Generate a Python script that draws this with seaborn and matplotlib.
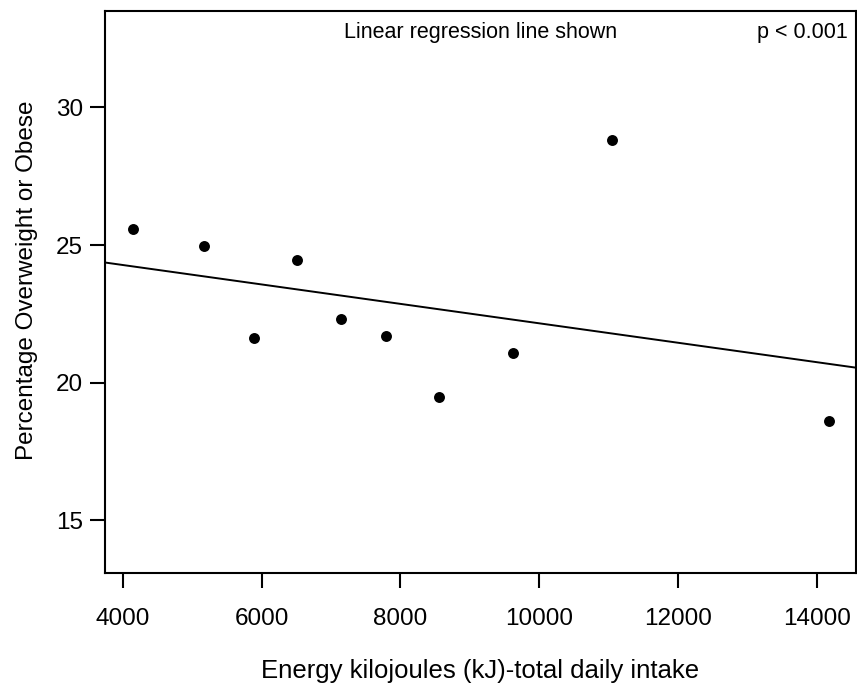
import numpy as np
import pandas as pd
import seaborn as sns
import matplotlib.pyplot as plt

# values
energy_kj = [4144, 5176, 5892, 6516, 7141, 7798, 8562, 9624, 11040, 14177]
pct_overweight = [25.59, 24.97, 21.62, 24.44, 22.30, 21.71, 19.49, 21.07, 28.81, 18.61]
x_ticks = [4000, 6000, 8000, 10000, 12000, 14000]
y_ticks = [15, 20, 25, 30]

df = pd.DataFrame({'energy': energy_kj, 'pct': pct_overweight})

sns.set_theme(style="ticks")
plt.rcParams['font.family'] = ['Liberation Sans', 'DejaVu Sans']

fig = plt.figure(figsize=(8.57, 6.9), dpi=100)
ax = fig.add_axes([105/857, 1 - 573/690, 751/857, 562/690])
ax.set_xlim(3745, 14560)
ax.set_ylim(13.09, 33.5)

# linear fit over the full axis width
sns.regplot(data=df, x='energy', y='pct', ci=None, truncate=False, color='black',
            scatter_kws={'s': 62, 'linewidths': 0, 'alpha': 1},
            line_kws={'linewidth': 1.4}, ax=ax)

ax.set_xlim(3745, 14560)
ax.set_ylim(13.09, 33.5)
ax.set_xticks(x_ticks)
ax.set_yticks(y_ticks)

for s in ax.spines.values():
    s.set_visible(True)
    s.set_linewidth(1.5)
    s.set_color('black')

ax.tick_params(axis='both', direction='out', length=11, width=1.5, color='black',
               labelsize=17.5, labelcolor='black')
ax.tick_params(axis='x', pad=14)
ax.tick_params(axis='y', pad=5)

ax.set_xlabel('Energy kilojoules (kJ)-total daily intake', fontsize=18.5, color='black')
ax.set_ylabel('Percentage Overweight or Obese', fontsize=17.5, color='black')
ax.xaxis.set_label_coords(0.5, -0.153)
ax.yaxis.set_label_coords(-0.089, 0.521)

ax.text(0.5, 0.962, 'Linear regression line shown', transform=ax.transAxes,
        ha='center', va='center', fontsize=15.5, color='black')
ax.text(0.989, 0.962, 'p < 0.001', transform=ax.transAxes,
        ha='right', va='center', fontsize=15.5, color='black')

fig.savefig('out.png', dpi=100)
